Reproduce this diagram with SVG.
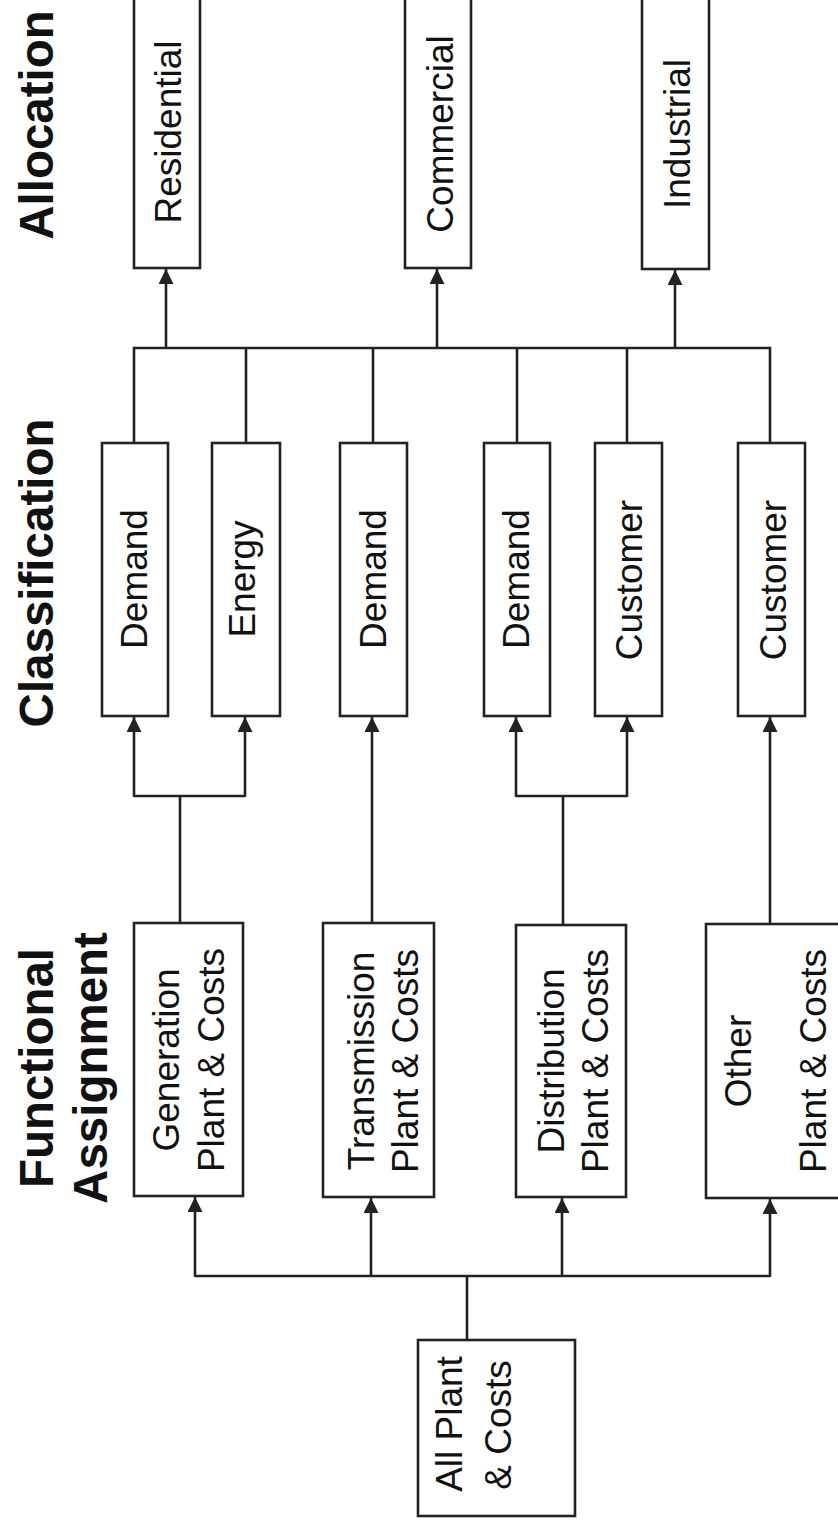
<svg xmlns="http://www.w3.org/2000/svg" width="838" height="1530" viewBox="0 0 838 1530">
<style>
.box{fill:#fff;stroke:#222;stroke-width:2.6}
.ln{fill:none;stroke:#222;stroke-width:2.6}
.arr{fill:none;stroke:#222;stroke-width:2.6;marker-end:url(#ah)}
.t{font-family:"Liberation Sans",Arial,sans-serif;font-size:37px;fill:#111;text-anchor:middle}
.h{font-family:"Liberation Sans",Arial,sans-serif;font-size:47.5px;font-weight:bold;fill:#111;text-anchor:middle}
</style>
<defs>
<marker id="ah" viewBox="0 0 10 10" refX="10" refY="5" markerWidth="15" markerHeight="15" markerUnits="userSpaceOnUse" orient="auto">
<path d="M0,0 L10,5 L0,10 z" fill="#222"/>
</marker>
</defs>
<g id="titles">
<text class="h" transform="translate(53,125) rotate(-90)">Allocation</text>
<text class="h" transform="translate(53,573) rotate(-90)">Classification</text>
<text class="h" transform="translate(53,1068) rotate(-90)">Functional</text>
<text class="h" transform="translate(107,1068) rotate(-90)">Assignment</text>
</g>
<g id="connectors">
<line class="ln" x1="133" y1="348" x2="771" y2="348"/>
<line class="arr" x1="166" y1="348" x2="166" y2="269"/>
<line class="arr" x1="437" y1="348" x2="437" y2="269"/>
<line class="arr" x1="675" y1="348" x2="675" y2="270"/>
<line class="ln" x1="134" y1="347" x2="134" y2="443"/>
<line class="ln" x1="246" y1="348" x2="246" y2="443"/>
<line class="ln" x1="373" y1="348" x2="373" y2="443"/>
<line class="ln" x1="517" y1="348" x2="517" y2="443"/>
<line class="ln" x1="627" y1="348" x2="627" y2="443"/>
<line class="ln" x1="770" y1="347" x2="770" y2="443"/>
<path class="ln" d="M134,796 H245 M180,796 V923"/>
<line class="arr" x1="134" y1="797" x2="134" y2="717"/>
<line class="arr" x1="245" y1="797" x2="245" y2="717"/>
<line class="arr" x1="372" y1="923" x2="372" y2="717"/>
<path class="ln" d="M516,796 H627 M563,796 V925"/>
<line class="arr" x1="516" y1="797" x2="516" y2="717"/>
<line class="arr" x1="627" y1="797" x2="627" y2="717"/>
<line class="arr" x1="770" y1="924" x2="770" y2="717"/>
<path class="ln" d="M195,1276 H770 M467,1276 V1340"/>
<line class="arr" x1="195" y1="1277" x2="195" y2="1197"/>
<line class="arr" x1="371" y1="1277" x2="371" y2="1198"/>
<line class="arr" x1="562" y1="1277" x2="562" y2="1198"/>
<line class="arr" x1="770" y1="1277" x2="770" y2="1199"/>
</g>
<g id="residential">
<rect class="box" x="134" y="-5" width="66" height="273"/>
<text class="t" transform="translate(181,132) rotate(-90)">Residential</text>
</g>
<g id="commercial">
<rect class="box" x="405" y="-5" width="66" height="273"/>
<text class="t" transform="translate(453,134) rotate(-90)">Commercial</text>
</g>
<g id="industrial">
<rect class="box" x="642" y="-5" width="67" height="274"/>
<text class="t" transform="translate(690,134) rotate(-90)">Industrial</text>
</g>
<g id="demand-gen">
<rect class="box" x="102" y="443" width="66" height="273"/>
<text class="t" transform="translate(147,579) rotate(-90)">Demand</text>
</g>
<g id="energy">
<rect class="box" x="212" y="443" width="68" height="273"/>
<text class="t" transform="translate(255,579) rotate(-90)">Energy</text>
</g>
<g id="demand-trans">
<rect class="box" x="340" y="443" width="67" height="273"/>
<text class="t" transform="translate(386,579) rotate(-90)">Demand</text>
</g>
<g id="demand-dist">
<rect class="box" x="484" y="443" width="66" height="273"/>
<text class="t" transform="translate(529,579) rotate(-90)">Demand</text>
</g>
<g id="customer-dist">
<rect class="box" x="595" y="443" width="67" height="273"/>
<text class="t" transform="translate(642,580) rotate(-90)">Customer</text>
</g>
<g id="customer-other">
<rect class="box" x="738" y="443" width="67" height="273"/>
<text class="t" transform="translate(786,580) rotate(-90)">Customer</text>
</g>
<g id="generation">
<rect class="box" x="134" y="923" width="109" height="273"/>
<text class="t" transform="translate(179,1060) rotate(-90)">Generation</text>
<text class="t" transform="translate(224,1060) rotate(-90)">Plant &amp; Costs</text>
</g>
<g id="transmission">
<rect class="box" x="323" y="923" width="111" height="274"/>
<text class="t" transform="translate(374,1061) rotate(-90)">Transmission</text>
<text class="t" transform="translate(418,1061) rotate(-90)">Plant &amp; Costs</text>
</g>
<g id="distribution">
<rect class="box" x="516" y="925" width="110" height="272"/>
<text class="t" transform="translate(564,1061) rotate(-90)">Distribution</text>
<text class="t" transform="translate(608,1061) rotate(-90)">Plant &amp; Costs</text>
</g>
<g id="other">
<rect class="box" x="706" y="924" width="140" height="274"/>
<text class="t" transform="translate(751,1061) rotate(-90)">Other</text>
<text class="t" transform="translate(826,1061) rotate(-90)">Plant &amp; Costs</text>
</g>
<g id="all-plant">
<rect class="box" x="418" y="1340" width="157" height="176"/>
<text class="t" transform="translate(462,1424) rotate(-90)">All Plant</text>
<text class="t" transform="translate(511,1425) rotate(-90)">&amp; Costs</text>
</g>
</svg>
